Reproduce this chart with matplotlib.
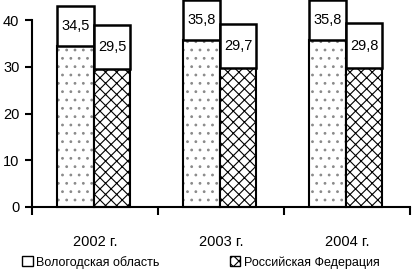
import numpy as np
import matplotlib.pyplot as plt
from matplotlib.patches import Patch

# data
years = ['2002 г.', '2003 г.', '2004 г.']
vologda = [34.5, 35.8, 35.8]
russia = [29.5, 29.7, 29.8]
names = ['Вологодская область', 'Российская Федерация']

plt.rcParams['font.family'] = ['Liberation Sans', 'DejaVu Sans']
plt.rcParams['hatch.linewidth'] = 0.8

fig = plt.figure(figsize=(4.15, 2.72), dpi=100)
ax = fig.add_axes([0.077, 0.239, 0.911, 0.687])

x = np.arange(len(years))
w = 0.29
# label frame heights on top of each bar
box_h = [8.5, 9.5]

for vals, off, hatch, hcol, bh in [(vologda, -0.155, '..', '#8a8a8a', box_h[0]),
                                   (russia, 0.135, 'xxx', 'black', box_h[1])]:
    # pattern fill, then a black outline over it
    ax.bar(x + off, vals, w, color='white', edgecolor=hcol,
           hatch=hatch, linewidth=0, clip_on=False)
    ax.bar(x + off, vals, w, fill=False, edgecolor='black',
           linewidth=1.5, clip_on=False)
    ax.bar(x + off, [bh] * len(vals), w, bottom=vals, color='white',
           edgecolor='black', linewidth=1.8, clip_on=False)
    for xi, v in zip(x + off, vals):
        ax.text(xi, v + bh / 2, f'{v:.1f}'.replace('.', ','),
                ha='center', va='center', fontsize=10.5)

ax.set_ylim(0, 40)
ax.set_xlim(-0.5, 2.5)
ax.set_yticks([0, 10, 20, 30, 40])
ax.tick_params(axis='y', direction='out', length=5, width=1.5,
               labelsize=10.5, pad=4)
ax.set_xticks(x)
ax.set_xticklabels(years, fontsize=10.5)
ax.tick_params(axis='x', which='major', length=0, pad=20)
ax.set_xticks([-0.5, 0.5, 1.5, 2.5], minor=True)
ax.tick_params(axis='x', which='minor', direction='out', length=6, width=1.5)
for s in ['top', 'right']:
    ax.spines[s].set_visible(False)
for s in ['left', 'bottom']:
    ax.spines[s].set_linewidth(1.5)

handles = [Patch(facecolor='white', edgecolor='black', hatch='', label=names[0]),
           Patch(facecolor='white', edgecolor='black', hatch='xxx', label=names[1])]
fig.legend(handles=handles, loc='lower left', bbox_to_anchor=(0.053, 0.012),
           ncol=2, frameon=False, fontsize=9, handlelength=0.85,
           handleheight=0.85, handletextpad=0.3, columnspacing=5.6,
           borderpad=0, borderaxespad=0)

fig.savefig('out.png', dpi=100)
